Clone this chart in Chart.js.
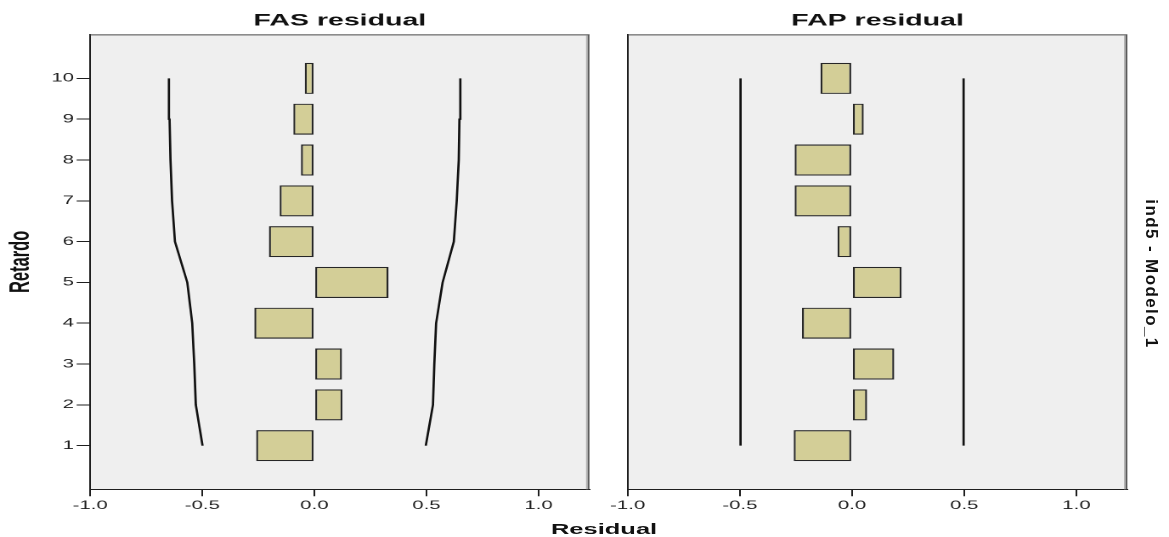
<!DOCTYPE html>
<html>
<head>
<meta charset="utf-8">
<title>FAS / FAP residual - ind5 - Modelo_1</title>
<script src="https://cdn.jsdelivr.net/npm/chart.js@4/dist/chart.umd.min.js"></script>
<style>
  html, body { margin: 0; padding: 0; background: #ffffff; width: 1169px; height: 537px; overflow: hidden; }
  /* both panels are laid out on a narrower stage that is widened horizontally */
  #stage { position: absolute; left: 0; top: 0; width: 688px; height: 537px;
           transform: scaleX(1.69913); transform-origin: 0 0; }
  #acfCanvas { position: absolute; left: 0; top: 0; }
  #pacfCanvas { position: absolute; left: 358px; top: 0; }
  #xTitle { position: absolute; left: 255.5px; top: 521px; width: 200px; text-align: center;
            font: bold 15px/15px "Liberation Sans", Arial, sans-serif; color: #111; }
  #rowTitle { position: absolute; left: 1051px; top: 264px; width: 200px; height: 20px;
              text-align: center; font: bold 17px/20px "Liberation Sans", Arial, sans-serif;
              letter-spacing: 1.4px; color: #111; transform: rotate(90deg); white-space: nowrap; }
</style>
</head>
<body>
<div id="stage">
  <canvas id="acfCanvas" width="358" height="537"></canvas>
  <canvas id="pacfCanvas" width="330" height="537"></canvas>
  <div id="xTitle">Residual</div>
</div>
<div id="rowTitle">ind5 - Modelo_1</div>
<script>
// Lags (vertical axis) and residual autocorrelations
const lags = [1, 2, 3, 4, 5, 6, 7, 8, 9, 10];
const acfValues = [-0.26, 0.125, 0.123, -0.268, 0.331, -0.203, -0.155, -0.06, -0.094, -0.043];
const pacfValues = [-0.26, 0.067, 0.188, -0.223, 0.221, -0.065, -0.256, -0.256, 0.052, -0.141];

// Confidence limits
const acfUpper = [0.497, 0.529, 0.535, 0.543, 0.572, 0.622, 0.635, 0.644, 0.647, 0.651];
const acfLower = [-0.499, -0.529, -0.536, -0.545, -0.567, -0.622, -0.635, -0.642, -0.646, -0.649];
const pacfUpper = [0.497, 0.497, 0.497, 0.497, 0.497, 0.497, 0.497, 0.497, 0.497, 0.497];
const pacfLower = [-0.497, -0.497, -0.497, -0.497, -0.497, -0.497, -0.497, -0.497, -0.497, -0.497];

// Axis ticks
const xTicks = [-1.0, -0.5, 0.0, 0.5, 1.0];
const yTicks = [1, 2, 3, 4, 5, 6, 7, 8, 9, 10];

const FONT = '"Liberation Sans", Arial, sans-serif';
const INK = '#1e1e1e';

// Panel background and the top / right frame lines
const panelFrame = {
  id: 'panelFrame',
  beforeDraw(chart) {
    const { ctx, chartArea: a } = chart;
    ctx.save();
    ctx.fillStyle = '#efefef';
    ctx.fillRect(a.left, a.top, a.right - a.left, a.bottom - a.top);
    ctx.restore();
  },
  afterDraw(chart) {
    const { ctx, chartArea: a } = chart;
    ctx.save();
    ctx.lineWidth = 1;
    ctx.strokeStyle = '#4a4a4a';
    ctx.beginPath();
    ctx.moveTo(a.left, a.top + 0.5);
    ctx.lineTo(a.right, a.top + 0.5);
    ctx.stroke();
    ctx.strokeStyle = '#b4b4b4';
    ctx.beginPath();
    ctx.moveTo(a.right - 1.5, a.top + 1);
    ctx.lineTo(a.right - 1.5, a.bottom);
    ctx.stroke();
    ctx.strokeStyle = '#5a5a5a';
    ctx.beginPath();
    ctx.moveTo(a.right - 0.5, a.top);
    ctx.lineTo(a.right - 0.5, a.bottom);
    ctx.stroke();
    ctx.restore();
  }
};

function toPoints(values) {
  return values.map((v, i) => ({ x: v, y: lags[i] }));
}

function makeDatasets(values, upper, lower) {
  return [
    {
      type: 'bar',
      label: 'Residual',
      data: toPoints(values),
      backgroundColor: '#d3ce97',
      borderColor: '#262626',
      borderWidth: 1.2,
      borderSkipped: false,
      barPercentage: 0.76,
      categoryPercentage: 1,
      order: 2
    },
    {
      type: 'line',
      label: 'Límite superior',
      indexAxis: 'y',
      data: toPoints(upper),
      borderColor: '#111111',
      borderWidth: 1.35,
      pointRadius: 0,
      tension: 0,
      fill: false,
      order: 1
    },
    {
      type: 'line',
      label: 'Límite inferior',
      indexAxis: 'y',
      data: toPoints(lower),
      borderColor: '#111111',
      borderWidth: 1.35,
      pointRadius: 0,
      tension: 0,
      fill: false,
      order: 1
    }
  ];
}

function clearPadding(s) {
  s.paddingLeft = 0; s.paddingRight = 0; s.paddingTop = 0; s.paddingBottom = 0;
}

function makeChart(canvasId, title, values, upper, lower, opts) {
  return new Chart(document.getElementById(canvasId), {
    type: 'bar',
    data: { datasets: makeDatasets(values, upper, lower) },
    options: {
      indexAxis: 'y',
      responsive: false,
      devicePixelRatio: 2,
      animation: false,
      events: [],
      layout: { padding: { left: 0, top: 0, bottom: 0, right: opts.rightPad } },
      plugins: {
        legend: { display: false },
        tooltip: { enabled: false },
        title: {
          display: true,
          text: title,
          fullSize: false,
          color: '#111111',
          font: { family: FONT, size: 16.8, weight: 'bold', lineHeight: 1.2 },
          padding: { top: 10.8, bottom: 3.4 }
        }
      },
      scales: {
        x: {
          type: 'linear',
          min: -1,
          max: 1.227,
          offset: false,
          afterBuildTicks: s => { s.ticks = xTicks.map(v => ({ value: v })); },
          afterFit: s => { s.height = 47.7; clearPadding(s); },
          ticks: {
            callback: v => Number(v).toFixed(1),
            color: INK,
            font: { family: FONT, size: 12 },
            padding: 2,
            maxRotation: 0,
            autoSkip: false
          },
          grid: { offset: false, drawOnChartArea: false, drawTicks: true, tickLength: 7, color: INK, lineWidth: 1 },
          border: { display: true, color: INK, width: 1 }
        },
        y: {
          type: 'linear',
          min: -0.07,
          max: 11.08,
          offset: false,
          afterBuildTicks: s => { s.ticks = yTicks.map(v => ({ value: v })); },
          afterFit: s => { s.width = opts.yWidth; clearPadding(s); },
          ticks: {
            display: opts.showYTicks,
            color: INK,
            font: { family: FONT, size: 12 },
            padding: 1.5
          },
          grid: { offset: false, drawOnChartArea: false, drawTicks: opts.showYTicks, tickLength: 8, color: INK, lineWidth: 1 },
          border: { display: true, color: INK, width: 1 },
          title: {
            display: opts.showYTitle,
            text: 'Retardo',
            color: '#111111',
            font: { family: FONT, size: 16.5, weight: 'bold', lineHeight: 1.2 },
            padding: { top: 2.5, bottom: 0 }
          }
        }
      }
    },
    plugins: [panelFrame]
  });
}

makeChart('acfCanvas', 'FAS residual', acfValues, acfUpper, acfLower,
  { rightPad: 11.1, yWidth: 53.1, showYTicks: true, showYTitle: true });
makeChart('pacfCanvas', 'FAP residual', pacfValues, pacfUpper, pacfLower,
  { rightPad: 24.5, yWidth: 11.4, showYTicks: false, showYTitle: false });
</script>
</body>
</html>
